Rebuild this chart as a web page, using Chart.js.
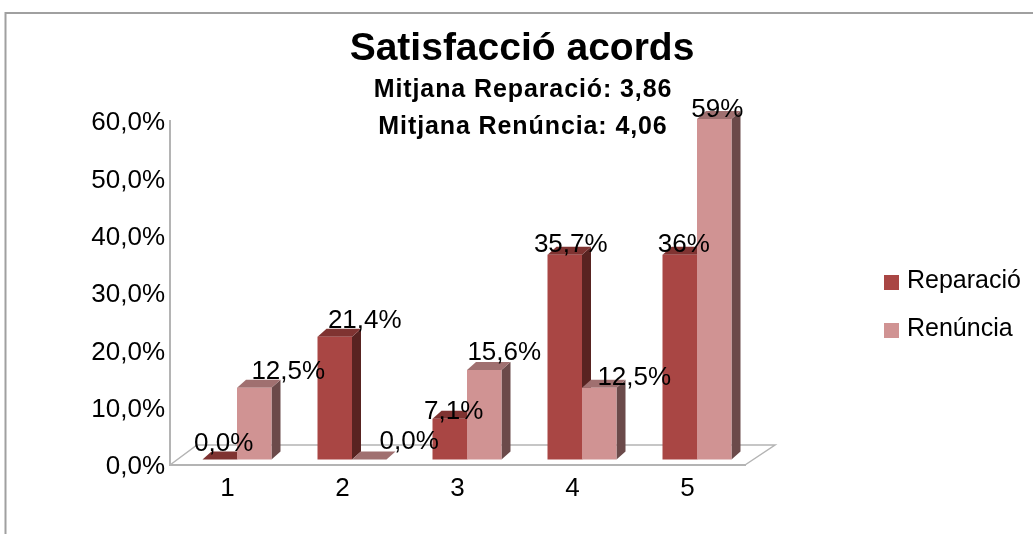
<!DOCTYPE html>
<html>
<head>
<meta charset="utf-8">
<title>Satisfacció acords</title>
<script src="https://cdn.jsdelivr.net/npm/chart.js@4"></script>
<style>
  html, body { margin: 0; padding: 0; background: #fff; }
  canvas { display: block; }
</style>
</head>
<body>
<canvas id="chart" width="1033" height="534"></canvas>
<script>
const categories = ['1', '2', '3', '4', '5'];
const reparacio = [0, 21.4, 7.1, 35.7, 35.7];
const renuncia = [12.5, 0, 15.6, 12.5, 59.4];
const reparacioLabels = ['0,0%', '21,4%', '7,1%', '35,7%', '36%'];
const renunciaLabels = ['12,5%', '0,0%', '15,6%', '12,5%', '59%'];
const tickLabels = ['0,0%', '10,0%', '20,0%', '30,0%', '40,0%', '50,0%', '60,0%'];
const seriesNames = ['Reparació', 'Renúncia'];
const titleText = 'Satisfacció acords';
const subtitleLines = ['Mitjana Reparació: 3,86', 'Mitjana Renúncia: 4,06'];

const FONT = '"Liberation Sans", Arial, sans-serif';
const FRONT = ['#a94644', '#d09393'];
const TOP = ['#7f3331', '#a07070'];
const SIDE = ['#582321', '#6b4a4a'];
const AXIS = '#b4b4b4';
// the bars stand a bit inside the floor, like the 3D chart they come from
const SHIFT_X = 9.5;
const SHIFT_Y = -5.5;
const DEPTH_X = 9;
const DEPTH_Y = 8;
// where each value label sits, relative to the middle of the bar top
const labelNudge = [
  [[4, -16], [30, -16], [4, -7], [6, -10], [4, -10]],
  [[34, -16], [40, -18], [20, -17], [35, -10], [3, -9]]
];

function face(ctx, color, pts) {
  ctx.fillStyle = color;
  ctx.beginPath();
  pts.forEach((p, i) => (i ? ctx.lineTo(p[0], p[1]) : ctx.moveTo(p[0], p[1])));
  ctx.closePath();
  ctx.fill();
}

const bars3d = {
  id: 'bars3d',
  beforeDraw(chart) {
    const ctx = chart.ctx;
    ctx.save();
    // frame, only the top and left edges are in the picture
    ctx.strokeStyle = '#a0a0a0';
    ctx.lineWidth = 2;
    ctx.beginPath();
    ctx.moveTo(1033, 13);
    ctx.lineTo(5.5, 13);
    ctx.lineTo(5.5, 534);
    ctx.stroke();
    ctx.restore();
  },
  beforeDatasetsDraw(chart) {
    const ctx = chart.ctx;
    const { left, right, bottom } = chart.chartArea;
    ctx.save();
    ctx.strokeStyle = AXIS;
    ctx.lineWidth = 1.5;
    ctx.beginPath();
    ctx.moveTo(left, bottom);
    ctx.lineTo(left + 27, bottom - 20);
    ctx.lineTo(right + 30, bottom - 20);
    ctx.lineTo(right, bottom);
    ctx.stroke();
    ctx.restore();

    // side and top faces go under all the fronts, red series first
    ctx.save();
    ctx.translate(SHIFT_X, SHIFT_Y);
    [0, 1].forEach(i => {
      chart.getDatasetMeta(i).data.forEach(bar => {
        const l = bar.x - bar.width / 2;
        const r = bar.x + bar.width / 2;
        const y = bar.y;
        const b = bar.base;
        face(ctx, SIDE[i], [[r, y], [r + DEPTH_X, y - DEPTH_Y], [r + DEPTH_X, b - DEPTH_Y], [r, b]]);
        face(ctx, TOP[i], [[l, y], [l + DEPTH_X, y - DEPTH_Y], [r + DEPTH_X, y - DEPTH_Y], [r, y]]);
      });
    });
  },
  afterDatasetsDraw(chart) {
    const ctx = chart.ctx;
    ctx.restore();
    ctx.save();
    ctx.fillStyle = '#000';
    ctx.textAlign = 'center';
    ctx.textBaseline = 'middle';
    ctx.font = '26px ' + FONT;
    [reparacioLabels, renunciaLabels].forEach((labels, i) => {
      chart.getDatasetMeta(i).data.forEach((bar, j) => {
        const nudge = labelNudge[i][j];
        ctx.fillText(labels[j], bar.x + SHIFT_X + nudge[0], bar.y + SHIFT_Y + nudge[1]);
      });
    });

    ctx.font = 'bold 39px ' + FONT;
    ctx.fillText(titleText, 522, 49);
    ctx.font = 'bold 25px ' + FONT;
    ctx.letterSpacing = '0.9px';
    ctx.fillText(subtitleLines[0], 523, 90);
    ctx.fillText(subtitleLines[1], 523, 127);
    ctx.letterSpacing = '0px';

    // legend
    ctx.textAlign = 'left';
    ctx.font = '25px ' + FONT;
    seriesNames.forEach((name, i) => {
      const y = 282.5 + i * 48;
      ctx.fillStyle = FRONT[i];
      ctx.fillRect(884, y - 7.5, 15, 15);
      ctx.fillStyle = '#000';
      ctx.fillText(name, 907, y - 1);
    });
    ctx.restore();
  }
};

const ctx = document.getElementById('chart').getContext('2d');
new Chart(ctx, {
  type: 'bar',
  data: {
    labels: categories,
    datasets: [
      { label: seriesNames[0], data: reparacio, backgroundColor: FRONT[0], clip: false },
      { label: seriesNames[1], data: renuncia, backgroundColor: FRONT[1], clip: false }
    ]
  },
  options: {
    responsive: false,
    animation: false,
    layout: { padding: { left: 0, top: 121, right: 288, bottom: 0 } },
    categoryPercentage: 0.6,
    barPercentage: 1,
    plugins: {
      legend: { display: false },
      title: { display: false },
      tooltip: { enabled: false }
    },
    scales: {
      x: {
        grid: { display: false, drawTicks: false },
        border: { color: AXIS, width: 2 },
        afterFit: scale => { scale.height = 69; },
        ticks: { color: '#000', padding: 8, maxRotation: 0, font: { family: FONT, size: 26 } }
      },
      y: {
        min: 0,
        max: 60,
        grid: { display: false, drawTicks: false },
        border: { color: AXIS, width: 2 },
        afterFit: scale => { scale.width = 170; },
        ticks: {
          stepSize: 10,
          color: '#000',
          padding: 5,
          labelOffset: 2,
          font: { family: FONT, size: 26 },
          callback: (value, index) => tickLabels[index]
        }
      }
    }
  },
  plugins: [bars3d]
});
</script>
</body>
</html>
